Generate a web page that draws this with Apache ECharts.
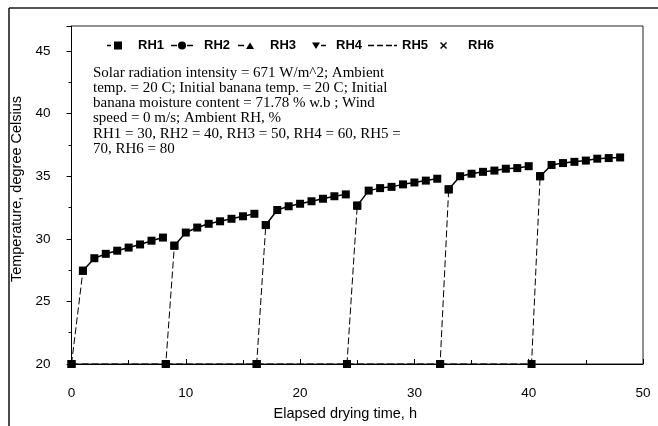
<!DOCTYPE html>
<html>
<head>
<meta charset="utf-8">
<script src="https://cdn.jsdelivr.net/npm/echarts@6/dist/echarts.min.js"></script>
<style>
html, body { margin: 0; padding: 0; background: #fff; }
#main { width: 658px; height: 426px; }
</style>
</head>
<body>
<div id="main"></div>
<script>
// series data (time in h, temperature in deg C)
var names = ['RH1', 'RH2', 'RH3', 'RH4', 'RH5', 'RH6'];
var rh1Time = [0, 1, 2, 3, 4, 5, 6, 7, 8];
var rh1Temp = [20, 27.45, 28.45, 28.8, 29.05, 29.3, 29.55, 29.85, 30.1];
var rh2Time = [8.25, 9, 10, 11, 12, 13, 14, 15, 16];
var rh2Temp = [20, 29.45, 30.5, 30.9, 31.2, 31.4, 31.6, 31.8, 32.0];
var rh3Time = [16.2, 17, 18, 19, 20, 21, 22, 23, 24];
var rh3Temp = [20, 31.1, 32.3, 32.6, 32.8, 33.0, 33.2, 33.4, 33.55];
var rh4Time = [24.1, 25, 26, 27, 28, 29, 30, 31, 32];
var rh4Temp = [20, 32.65, 33.85, 34.05, 34.15, 34.35, 34.5, 34.65, 34.8];
var rh5Time = [32.25, 33, 34, 35, 36, 37, 38, 39, 40];
var rh5Temp = [20, 33.95, 35.0, 35.2, 35.35, 35.45, 35.6, 35.65, 35.8];
var rh6Time = [40.25, 41, 42, 43, 44, 45, 46, 47, 48];
var rh6Temp = [20, 35.0, 35.9, 36.05, 36.15, 36.25, 36.4, 36.45, 36.5];

var xTicks = [0, 10, 20, 30, 40, 50];
var yTicks = [20, 25, 30, 35, 40, 45];

var noteLines = [
    'Solar radiation intensity = 671 W/m^2; Ambient',
    'temp. = 20 C; Initial banana temp. = 20 C; Initial',
    'banana moisture content = 71.78 % w.b ; Wind',
    'speed = 0 m/s; Ambient RH, %',
    'RH1 = 30, RH2 = 40, RH3 = 50, RH4 = 60, RH5 =',
    '70, RH6 = 80'
];

// legend icons: line piece + marker, in a 29x8 box (corner dots fix the box)
var corner = 'M0,0h0.01v0.01h-0.01zM28.99,7.99h0.01v0.01h-0.01z';
var icons = [
    'path://M3,3.2h4v1.6h-4zM10,0h8v8h-8z' + corner,
    'path://M1,3.2h6v1.6h-6zM8,4a4,4 0 1,1 8,0a4,4 0 1,1 -8,0zM17,3.2h6v1.6h-6z' + corner,
    'path://M2,3.2h6v1.6h-6zM10,7.5L14,1L18,7.5z' + corner,
    'path://M10,1L18,1L14,7.5zM19,3.2h5v1.6h-5z' + corner,
    'path://M0,3.3h6v1.4h-6zM9,3.3h6v1.4h-6zM18,3.3h6v1.4h-6zM26,3.3h3v1.4h-3z' + corner,
    'path://M6,1.5L7,0.5L9.5,3L12,0.5L13,1.5L10.5,4L13,6.5L12,7.5L9.5,5L7,7.5L6,6.5L8.5,4z' + corner
];

var timeSets = [rh1Time, rh2Time, rh3Time, rh4Time, rh5Time, rh6Time];
var tempSets = [rh1Temp, rh2Temp, rh3Temp, rh4Temp, rh5Temp, rh6Temp];

var series = [];
names.forEach(function (n, i) {
    var t = timeSets[i], v = tempSets[i];
    // dashed drop line: baseline from previous start, then jump up
    var drop = [];
    if (i > 0) drop.push([timeSets[i - 1][0], v[0]]);
    drop.push([t[0], v[0]], [t[1], v[1]]);
    series.push({
        name: n, type: 'line', data: drop,
        symbol: 'rect', symbolSize: 8,
        lineStyle: { color: '#000', width: 1, type: [7, 3] },
        itemStyle: { color: '#000' },
        z: 2
    });
    var curve = [];
    for (var k = 1; k < t.length; k++) curve.push([t[k], v[k]]);
    series.push({
        name: n, type: 'line', data: curve,
        symbol: 'rect', symbolSize: 8,
        lineStyle: { color: '#000', width: 1.5 },
        itemStyle: { color: '#000' },
        z: 3
    });
});

var myChart = echarts.init(document.getElementById('main'));
var option = {
    animation: false,
    backgroundColor: '#fff',
    grid: {
        left: 71.5, right: 15, top: 26, bottom: 59,
        show: true, borderColor: '#222', borderWidth: 1
    },
    legend: {
        data: names.map(function (n, i) { return { name: n, icon: icons[i] }; }),
        left: 104, top: 39, padding: 0,
        itemWidth: 29, itemHeight: 8, itemGap: 6,
        symbolKeepAspect: true,
        itemStyle: { borderWidth: 0 },
        textStyle: { color: '#000', fontSize: 13, fontWeight: 'bold', fontFamily: 'Liberation Sans' }
    },
    xAxis: {
        type: 'value',
        min: xTicks[0], max: xTicks[xTicks.length - 1], interval: xTicks[1] - xTicks[0],
        name: 'Elapsed drying time, h',
        nameLocation: 'middle', nameGap: 42,
        nameTextStyle: { color: '#000', fontSize: 14.5, fontFamily: 'Liberation Sans', padding: [0, 24, 0, 0] },
        axisLine: { lineStyle: { color: '#000', width: 1 } },
        axisTick: { inside: true, length: 5, lineStyle: { color: '#000' } },
        minorTick: { show: true, splitNumber: 2, length: 4, lineStyle: { color: '#000' } },
        splitLine: { show: false },
        axisLabel: { color: '#000', fontSize: 13.5, fontFamily: 'Liberation Sans', margin: 22 }
    },
    yAxis: {
        type: 'value',
        min: yTicks[0], max: 47, interval: yTicks[1] - yTicks[0],
        name: 'Temperature, degree Celsius',
        nameLocation: 'middle', nameGap: 38,
        nameTextStyle: { color: '#000', fontSize: 14.5, fontFamily: 'Liberation Sans', padding: [0, 0, 0, 12] },
        axisLine: { lineStyle: { color: '#000', width: 1 } },
        axisTick: { inside: false, length: 5, lineStyle: { color: '#000' } },
        minorTick: { show: true, splitNumber: 2, length: 3, lineStyle: { color: '#000' } },
        splitLine: { show: false },
        axisLabel: { color: '#000', fontSize: 13.5, fontFamily: 'Liberation Sans', margin: 21, showMaxLabel: false }
    },
    graphic: [
        { type: 'line', shape: { x1: 9, y1: 8, x2: 658, y2: 8 }, style: { stroke: '#555', lineWidth: 2 } },
        { type: 'line', shape: { x1: 9, y1: 8, x2: 9, y2: 426 }, style: { stroke: '#111', lineWidth: 1.5 } },
        {
            type: 'text', left: 93, top: 65,
            style: {
                text: noteLines.join('\n'),
                fontSize: 15, fontFamily: 'Liberation Serif', lineHeight: 15.3, fill: '#000'
            }
        }
    ],
    series: series
};
myChart.setOption(option);
</script>
</body>
</html>
